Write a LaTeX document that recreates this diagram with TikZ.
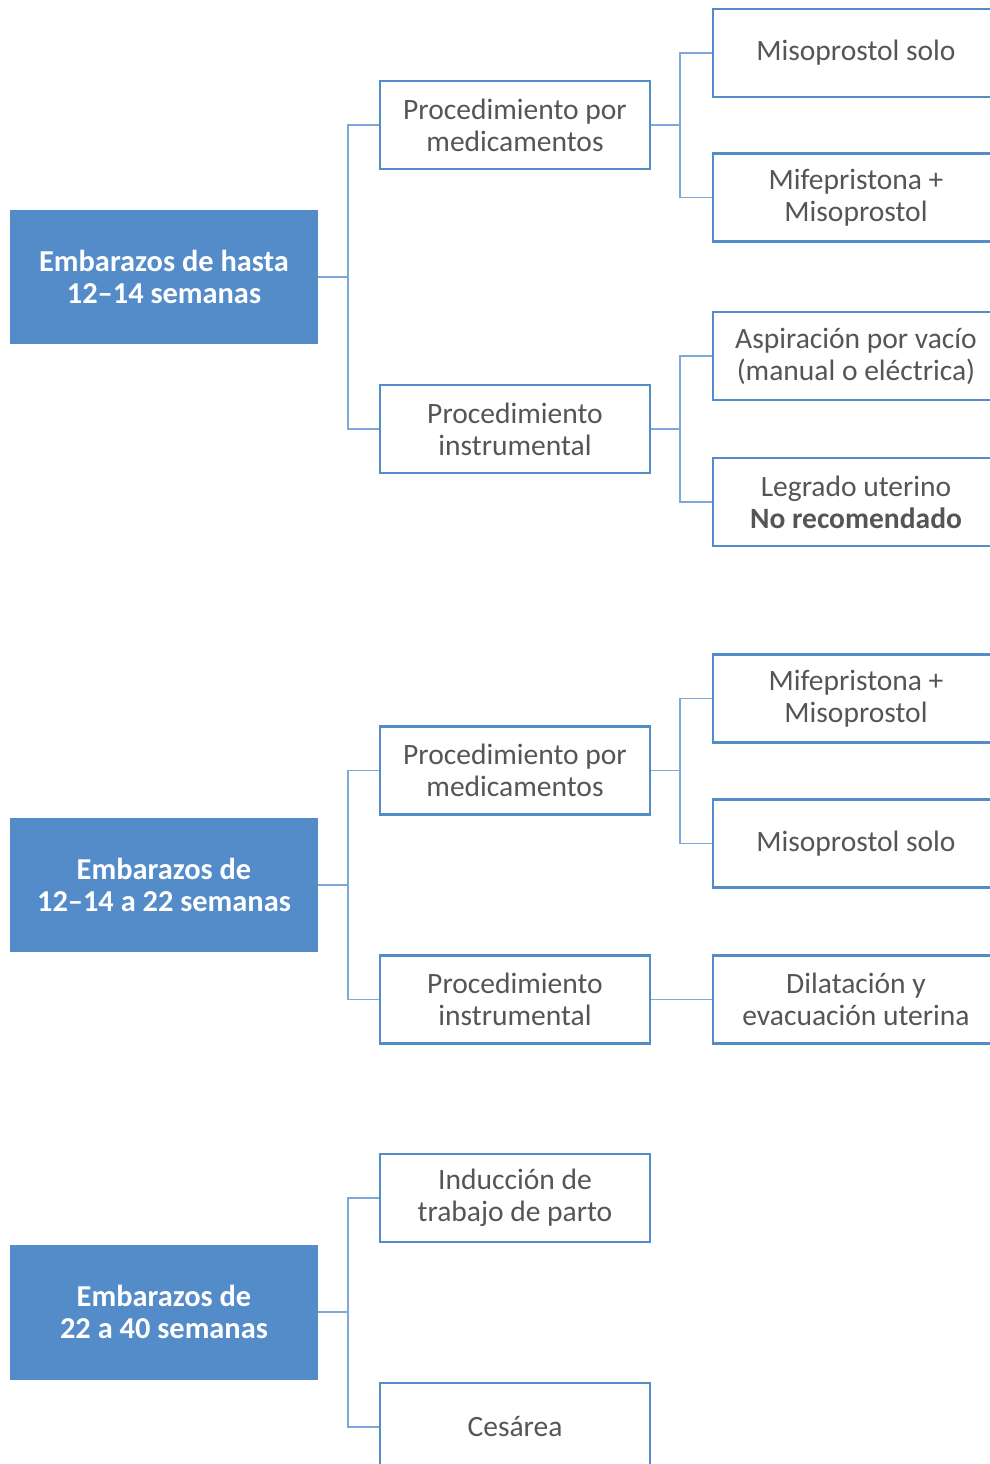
\documentclass[tikz,border=0pt]{standalone}
\usepackage{fontspec}
\setmainfont{Carlito}
\usetikzlibrary{positioning}
\definecolor{blockblue}{HTML}{548BC9}
\definecolor{lineblue}{HTML}{7FA7D8}
\definecolor{textgray}{HTML}{555555}
\begin{document}
\begin{tikzpicture}[x=0.02cm,y=-0.02cm]
     \useasboundingbox (0,0) rectangle (990,1464);
     \clip (0,0) rectangle (990,1464);
     \tikzstyle{group_style} = [rectangle,fill=blockblue,text=white,font=\bfseries\fontsize{17.3}{18.3}\selectfont,align=center,inner sep=0pt,minimum width=6.16cm,minimum height=2.7cm]
     \tikzstyle{proc_style} = [rectangle,draw=blockblue,line width=1.4pt,text=textgray,font=\fontsize{16.8}{18.3}\selectfont,align=center,inner sep=0pt,minimum width=5.4cm,minimum height=1.76cm]
     \tikzstyle{method_style} = [proc_style,minimum width=5.72cm]
     \tikzstyle{edge_style} = [draw=lineblue,line width=0.85pt]
     % hasta 12-14 semanas
     \node[group_style] (g1) at (164,277) {Embarazos de hasta\\12--14 semanas};
     \node[proc_style] (p1) at (515,125) {Procedimiento por\\medicamentos};
     \node[proc_style] (p2) at (515,429) {Procedimiento\\instrumental};
     \node[method_style] (m1) at (856,53) {Misoprostol solo};
     \node[method_style] (m2) at (856,197.5) {Mifepristona +\\Misoprostol};
     \node[method_style] (m3) at (856,356) {Aspiración por vacío\\(manual o eléctrica)};
     \node[method_style] (m4) at (856,502) {Legrado uterino\\\textbf{No recomendado}};
     % 12-14 a 22 semanas
     \node[group_style] (g2) at (164,885) {Embarazos de\\12--14 a 22 semanas};
     \node[proc_style] (p3) at (515,770.5) {Procedimiento por\\medicamentos};
     \node[proc_style] (p4) at (515,999.5) {Procedimiento\\instrumental};
     \node[method_style] (m5) at (856,698.5) {Mifepristona +\\Misoprostol};
     \node[method_style] (m6) at (856,843.5) {Misoprostol solo};
     \node[method_style] (m7) at (856,999.5) {Dilatación y\\evacuación uterina};
     % 22 a 40 semanas
     \node[group_style] (g3) at (164,1312) {Embarazos de\\22 a 40 semanas};
     \node[proc_style] (p5) at (515,1198) {Inducción de\\trabajo de parto};
     \node[proc_style] (p6) at (515,1427) {Cesárea};
     \draw[edge_style]  (p1.west) -- ++(-31,0) |- (g1.east);
     \draw[edge_style]  (p2.west) -- ++(-31,0) |- (g1.east);
     \draw[edge_style]  (m1.west) -- ++(-32,0) |- (p1.east);
     \draw[edge_style]  (m2.west) -- ++(-32,0) |- (p1.east);
     \draw[edge_style]  (m3.west) -- ++(-32,0) |- (p2.east);
     \draw[edge_style]  (m4.west) -- ++(-32,0) |- (p2.east);
     \draw[edge_style]  (p3.west) -- ++(-31,0) |- (g2.east);
     \draw[edge_style]  (p4.west) -- ++(-31,0) |- (g2.east);
     \draw[edge_style]  (m5.west) -- ++(-32,0) |- (p3.east);
     \draw[edge_style]  (m6.west) -- ++(-32,0) |- (p3.east);
     \draw[edge_style]  (p4.east) -- (m7.west);
     \draw[edge_style]  (p5.west) -- ++(-31,0) |- (g3.east);
     \draw[edge_style]  (p6.west) -- ++(-31,0) |- (g3.east);
\end{tikzpicture}
\end{document}
